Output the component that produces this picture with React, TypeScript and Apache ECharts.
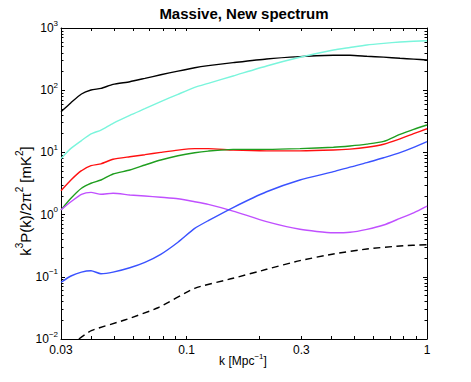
import React, { useEffect, useRef } from 'react';
import * as echarts from 'echarts';

// k grid (Mpc^-1) shared by the solid curves
const K = [0.03, 0.033, 0.0365, 0.04, 0.044, 0.0494, 0.058, 0.067, 0.078, 0.092, 0.108, 0.123, 0.156, 0.215, 0.296, 0.408, 0.478, 0.562, 0.66, 0.772, 0.88, 1.0];
const BLACK = [45.1, 63, 86.9, 100.7, 107, 124, 137, 155, 177, 203, 230, 248, 277, 318, 346, 364, 364, 351, 340, 326, 316, 306];
const CYAN = [8.0, 11.6, 15.5, 19.8, 22.9, 29.4, 39.5, 50.4, 65.4, 85.9, 111, 129, 169, 245, 338, 443, 486, 533, 567, 596, 612, 625];
const RED = [2.42, 3.6, 5.08, 6.11, 6.55, 7.75, 8.53, 9.19, 10.0, 10.9, 11.5, 11.5, 10.9, 10.6, 10.6, 10.9, 11.3, 12.1, 13.5, 16.5, 20, 24];
const GREEN = [1.19, 1.83, 2.65, 3.19, 3.6, 4.5, 5.21, 6.27, 7.55, 8.85, 9.89, 10.5, 11.2, 11.2, 11.5, 12.1, 12.7, 13.6, 15, 19.5, 23.5, 27.6];
const MAGENTA = [1.19, 1.61, 2.12, 2.28, 2.12, 2.2, 2.07, 1.99, 1.9, 1.8, 1.61, 1.46, 1.14, 0.77, 0.58, 0.51, 0.52, 0.58, 0.68, 0.87, 1.07, 1.37];
const BLUE = [0.0817, 0.103, 0.119, 0.125, 0.112, 0.119, 0.14, 0.171, 0.23, 0.36, 0.6, 0.8, 1.3, 2.33, 3.6, 4.9, 5.8, 6.83, 8.2, 9.89, 12, 14.9];
// dashed curve has its own k samples (it enters the plot at the bottom edge)
const DASHED_K = [0.0356, 0.0401, 0.0552, 0.076, 0.108, 0.156, 0.215, 0.296, 0.408, 0.562, 0.772, 1.0];
const DASHED = [0.01, 0.0136, 0.0202, 0.0318, 0.0653, 0.0946, 0.132, 0.182, 0.233, 0.28, 0.313, 0.328];

// axis ticks
const X_LABELS = [0.03, 0.1, 0.3, 1];
const X_TICKS = [0.04, 0.05, 0.06, 0.07, 0.08, 0.09, 0.1, 0.2, 0.3, 0.4, 0.5, 0.6, 0.7, 0.8, 0.9, 1];
const Y_DECADES = [0.01, 0.1, 1, 10, 100, 1000];
const Y_MULT = [2, 3, 4, 5, 6, 7, 8, 9];

const FONT = 'Liberation Sans, Arial, Helvetica, sans-serif';

export default function App() {
  const ref = useRef<HTMLDivElement>(null);
  useEffect(() => {
    const chart = echarts.init(ref.current!, null, { renderer: 'svg' });
    const pairs = (xs: number[], ys: number[]) => xs.map((x, i) => [x, ys[i]]);
    const yMinor: number[] = [];
    Y_DECADES.slice(0, -1).forEach((d) => Y_MULT.forEach((m) => yMinor.push(+(d * m).toPrecision(3))));

    const xBase = {
      type: 'log' as const,
      logBase: 10,
      min: 0.03,
      max: 1,
      splitLine: { show: false },
      axisLine: { show: true, lineStyle: { color: '#000', width: 1 } },
    };
    const yBase = {
      type: 'log' as const,
      logBase: 10,
      min: 0.01,
      max: 1000,
      splitLine: { show: false },
      axisLine: { show: true, lineStyle: { color: '#000', width: 1 } },
    };
    const supRich = {
      b: { fontSize: 12, lineHeight: 18, fontFamily: FONT, color: '#000' },
      s: { fontSize: 8, lineHeight: 8, verticalAlign: 'top', fontFamily: FONT, color: '#000' },
    };
    const expText = (v: number) => {
      const e = Math.round(Math.log10(v));
      return `{b|10}{s|${e < 0 ? '\u2212' + -e : e}}`;
    };

    const line = (data: number[][], color: string, dashed = false) => ({
      type: 'line',
      data,
      showSymbol: false,
      symbol: 'none',
      smooth: 0.2,
      clip: true,
      lineStyle: { color, width: 1.4, type: dashed ? [7, 4.5] : 'solid' },
      itemStyle: { color },
      z: 3,
    });

    chart.setOption({
      animation: false,
      backgroundColor: '#fff',
      grid: { left: 61, top: 28, right: 44, bottom: 43 },
      xAxis: [
        {
          ...xBase,
          position: 'bottom',
          axisTick: { show: true, inside: true, length: 3, customValues: X_TICKS, lineStyle: { color: '#000' } },
          axisLabel: {
            show: true,
            customValues: X_LABELS,
            margin: 5,
            fontSize: 12,
            fontFamily: FONT,
            color: '#000',
            formatter: (v: number) => String(Math.round(v * 100) / 100),
          },
        },
        {
          ...xBase,
          position: 'top',
          axisTick: { show: true, inside: true, length: 3, customValues: X_TICKS, lineStyle: { color: '#000' } },
          axisLabel: { show: false },
        },
      ],
      yAxis: [
        {
          ...yBase,
          position: 'left',
          axisTick: { show: true, inside: true, length: 4, customValues: Y_DECADES, lineStyle: { color: '#000' } },
          axisLabel: {
            show: true,
            customValues: Y_DECADES,
            margin: 3,
            formatter: expText,
            rich: supRich,
          },
        },
        {
          ...yBase,
          position: 'left',
          axisLine: { show: false },
          axisTick: { show: true, inside: true, length: 2.5, customValues: yMinor, lineStyle: { color: '#000' } },
          axisLabel: { show: false },
        },
        {
          ...yBase,
          position: 'right',
          axisTick: { show: true, inside: true, length: 4, customValues: Y_DECADES, lineStyle: { color: '#000' } },
          axisLabel: { show: false },
        },
        {
          ...yBase,
          position: 'right',
          axisLine: { show: false },
          axisTick: { show: true, inside: true, length: 2.5, customValues: yMinor, lineStyle: { color: '#000' } },
          axisLabel: { show: false },
        },
      ],
      series: [
        line(pairs(K, BLACK), '#000000'),
        line(pairs(K, CYAN), '#7af5dc'),
        line(pairs(K, RED), '#ff1010'),
        line(pairs(K, GREEN), '#1f9e1f'),
        line(pairs(K, MAGENTA), '#c050ff'),
        line(pairs(K, BLUE), '#3a52ff'),
        line(pairs(DASHED_K, DASHED), '#000000', true),
      ],
      graphic: [
        {
          type: 'text',
          x: 244,
          y: 13,
          style: {
            text: 'Massive, New spectrum',
            fontSize: 15,
            fontWeight: 'bold',
            fontFamily: FONT,
            fill: '#000',
            align: 'center',
            verticalAlign: 'middle',
          },
        },
        {
          type: 'text',
          x: 243,
          y: 361,
          style: {
            text: '{n|k [Mpc}{s|\u22121}{n|]}',
            align: 'center',
            verticalAlign: 'middle',
            rich: {
              n: { fontSize: 12, lineHeight: 18, fontFamily: FONT, fill: '#000' },
              s: { fontSize: 8, lineHeight: 8, verticalAlign: 'top', fontFamily: FONT, fill: '#000' },
            },
          },
        },
        {
          type: 'text',
          x: 25,
          y: 201,
          rotation: Math.PI / 2,
          style: {
            text: '{n|k}{s|3}{n|P(k)/2\u03c0}{s|2}{n| [mK}{s|2}{n|]}',
            align: 'center',
            verticalAlign: 'middle',
            rich: {
              n: { fontSize: 15, lineHeight: 22, fontFamily: FONT, fill: '#000' },
              s: { fontSize: 10, lineHeight: 10, verticalAlign: 'top', fontFamily: FONT, fill: '#000' },
            },
          },
        },
      ],
    });
    return () => chart.dispose();
  }, []);
  return (
    <div
      ref={ref}
      style={{ position: 'fixed', left: 0, top: 0, width: 471, height: 382, background: '#fff' }}
    />
  );
}
